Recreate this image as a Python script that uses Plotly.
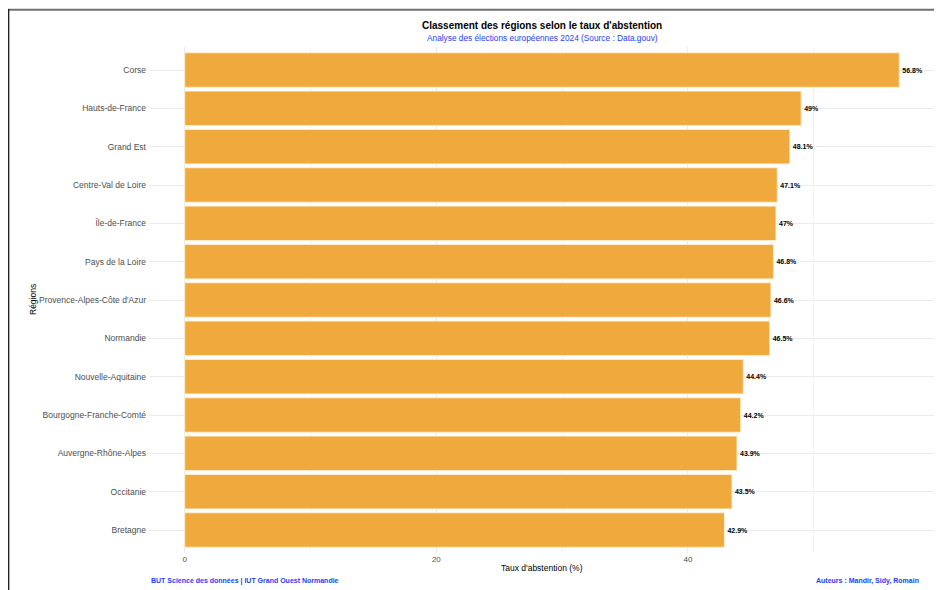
import plotly.graph_objects as go

regions = [
    "Corse", "Hauts-de-France", "Grand Est", "Centre-Val de Loire", "Île-de-France",
    "Pays de la Loire", "Provence-Alpes-Côte d'Azur", "Normandie", "Nouvelle-Aquitaine",
    "Bourgogne-Franche-Comté", "Auvergne-Rhône-Alpes", "Occitanie", "Bretagne",
]
abstention = [56.8, 49.0, 48.1, 47.1, 47.0, 46.8, 46.6, 46.5, 44.4, 44.2, 43.9, 43.5, 42.9]
labels = ["56.8%", "49%", "48.1%", "47.1%", "47%", "46.8%", "46.6%", "46.5%",
          "44.4%", "44.2%", "43.9%", "43.5%", "42.9%"]
x_ticks = [0, 20, 40]

# page body has an 8px margin: work in reference pixels and subtract it
OFF = 8
W, H = 942 - OFF, 590 - OFF
L, R, T, B = 149 - OFF, 935 - OFF, 47 - OFF, 553 - OFF
pw, ph = R - L, B - T

def px(x):
    return (x - OFF - L) / pw

def py(y):
    return (B - (y - OFF)) / ph

FONT = "Liberation Sans, Arial, sans-serif"

fig = go.Figure()
fig.add_trace(go.Bar(
    y=regions, x=abstention, orientation="h",
    width=0.9,
    marker=dict(color="#F0A93D", line=dict(color="rgba(255,240,215,0.9)", width=1)),
    text=labels, textposition="outside", cliponaxis=False,
    textfont=dict(family=FONT, size=7, color="black", weight="bold"),
    hoverinfo="skip",
))

fig.update_layout(
    width=W, height=H,
    margin=dict(l=L, r=W - R, t=T, b=H - B, pad=0),
    paper_bgcolor="white", plot_bgcolor="white",
    showlegend=False,
    font=dict(family=FONT),
    bargap=0.1,
    xaxis=dict(
        range=[-2.84, 59.64], tickvals=x_ticks, ticktext=[str(v) for v in x_ticks],
        showgrid=True, gridcolor="#EBEBEB", gridwidth=1,
        minor=dict(dtick=10, tick0=0, showgrid=True, gridcolor="#F3F3F3", gridwidth=0.6),
        zeroline=False, showline=False, ticks="",
        tickfont=dict(family=FONT, size=8, color="#4D4D4D"),
        ticklabelstandoff=0,
    ),
    yaxis=dict(
        categoryorder="array", categoryarray=regions[::-1],
        range=[-0.6, len(regions) - 0.4],
        showgrid=True, gridcolor="#EBEBEB", gridwidth=1,
        zeroline=False, showline=False, ticks="",
        tickfont=dict(family=FONT, size=8.5, color="#4D4D4D"),
        ticklabelstandoff=2,
    ),
)

ann = []
ann.append(dict(text="<b>Classement des régions selon le taux d'abstention</b>",
                x=0.5, y=py(25), xref="paper", yref="paper", showarrow=False,
                xanchor="center", yanchor="middle",
                font=dict(family=FONT, size=10, color="black")))
ann.append(dict(text="Analyse des élections européennes 2024 (Source : Data.gouv)",
                x=0.5, y=py(38), xref="paper", yref="paper", showarrow=False,
                xanchor="center", yanchor="middle",
                font=dict(family=FONT, size=8.3, color="#1F3DFF")))
ann.append(dict(text="Taux d'abstention (%)",
                x=0.5, y=py(568), xref="paper", yref="paper", showarrow=False,
                xanchor="center", yanchor="middle",
                font=dict(family=FONT, size=8.5, color="black")))
ann.append(dict(text="Régions", textangle=-90,
                x=px(33), y=0.5, xref="paper", yref="paper", showarrow=False,
                xanchor="center", yanchor="middle",
                font=dict(family=FONT, size=8.5, color="black")))
ann.append(dict(text="<b>BUT Science des données | IUT Grand Ouest Normandie</b>",
                x=0, y=py(581), xref="paper", yref="paper", showarrow=False,
                xanchor="left", yanchor="middle",
                font=dict(family=FONT, size=7, color="#1F3DFF")))
ann.append(dict(text="<b>Auteurs : Mandir, Sidy, Romain</b>",
                x=px(921), y=py(581), xref="paper", yref="paper", showarrow=False,
                xanchor="right", yanchor="middle",
                font=dict(family=FONT, size=7, color="#1F3DFF")))
fig.update_layout(annotations=ann)

fig.add_shape(type="line", xref="paper", yref="paper",
              x0=px(8), x1=px(942), y0=py(9.8), y1=py(9.8),
              line=dict(color="#707070", width=2))
fig.add_shape(type="line", xref="paper", yref="paper",
              x0=px(8.6), x1=px(8.6), y0=py(9), y1=py(590),
              line=dict(color="#222222", width=1.5))

fig.write_html("out.html")
